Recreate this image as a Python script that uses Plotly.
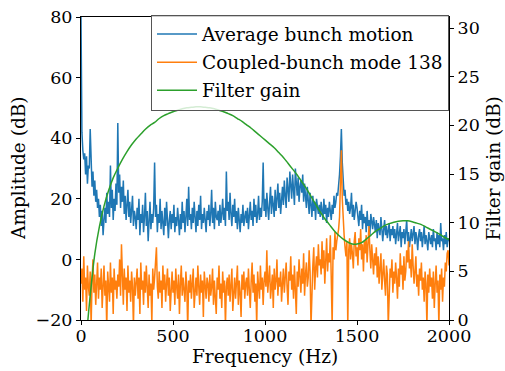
import plotly.graph_objects as go

# Average bunch motion (dB), 5 Hz spacing from 0 Hz
blue_db = [
    80, 42, 36, 33, 35, 28, 34, 25, 31, 30, 43, 27, 24, 29, 21, 26, 19, 23, 17, 20,
    14, 18, 11, 16, 8, 13, 17, 12, 22, 15, 19, 14, 31, 17, 23, 13, 20, 16, 25, 18,
    45, 22, 28, 17, 24, 19, 26, 15, 21, 13, 18, 23, 14, 19, 12, 17, 21, 11, 16, 14,
    10, 17, 13, 20, 8, 15, 12, 18, 9, 14, 22, 11, 16, 6, 13, 19, 10, 15, 12, 17,
    32, 14, 18, 9, 15, 12, 20, 10, 16, 13, 8, 17, 11, 19, 14, 7, 13, 16, 10, 15,
    12, 18, 9, 14, 11, 17, 13, 8, 15, 10, 19, 12, 16, 9, 14, 20, 11, 24, 13, 15,
    10, 17, 12, 19, 14, 9, 16, 11, 18, 13, 21, 10, 15, 12, 17, 14, 9, 16, 13, 18,
    11, 15, 23, 12, 17, 10, 19, 14, 13, 16, 11, 18, 12, 15, 20, 13, 17, 11, 29, 16,
    19, 13, 22, 15, 11, 18, 14, 20, 12, 16, 10, 17, 13, 9, 15, 12, 18, 11, 14, 16,
    12, 17, 10, 15, 19, 13, 16, 11, 20, 14, 18, 12, 15, 21, 13, 17, 14, 19, 32, 16,
    20, 14, 22, 17, 13, 19, 24, 15, 21, 18, 14, 23, 16, 20, 25, 17, 22, 15, 19, 24,
    18, 26, 21, 17, 27, 22, 19, 29, 24, 20, 28, 23, 18, 30, 25, 21, 27, 19, 24, 26,
    22, 28, 19, 25, 21, 17, 24, 20, 15, 22, 18, 14, 21, 16, 19, 13, 20, 17, 15, 18,
    14, 19, 16, 13, 20, 15, 18, 12, 17, 14, 19, 16, 13, 18, 15, 21, 17, 19, 22, 21,
    24, 28, 34, 43, 32, 25, 21, 23, 18, 20, 16, 19, 15, 17, 22, 14, 18, 13, 16, 19,
    17, 14, 11, 16, 13, 18, 10, 15, 12, 14, 9, 16, 11, 13, 8, 15, 12, 10, 14, 11,
    9, 13, 7, 12, 10, 8, 14, 11, 6, 10, 13, 8, 11, 7, 9, 12, 6, 10, 8, 11,
    7, 10, 5, 9, 12, 6, 8, 11, 4, 9, 7, 10, 5, 8, 13, 6, 9, 4, 7, 10,
    6, 8, 11, 5, 9, 7, 3, 8, 10, 6, 9, 4, 7, 11, 5, 8, 6, 3, 9, 7,
    5, 8, 4, 10, 6, 7, 3, 9, 5, 8, 4, 12, 6, 7, 3, 8, 5, 9, 4, 7,
    6,
]

# Coupled-bunch mode 138 (dB), 5 Hz spacing from 0 Hz
orange_db = [
    -8, -3, -14, 1, -10, -6, -17, -2, -9, -12, -4, -22, -7, 0, -11, -5, -15, -8, -1, -13,
    -6, -10, -3, -16, -8, -2, -12, -7, -23, -4, -9, -14, -1, -11, -6, -18, -3, -10, -7, -13,
    -5, -9, 0, -12, 5, -8, -15, -3, -10, -6, -17, -2, -11, -7, -14, -4, -9, -22, -6, -12,
    -8, -3, -13, -6, -18, -1, -10, -7, -15, -4, -11, -2, -9, -16, -5, -12, -8, -21, -3, -10,
    -6, -1, 4, -9, -13, -4, -11, -7, -16, -2, -10, -5, -14, -8, -3, -12, -6, -17, -9, -4,
    -11, -7, -15, -3, -9, -13, -5, -18, -8, -2, -12, -6, -10, -14, -4, -9, -23, -7, -11, -5,
    -13, -8, -3, -16, -10, -6, -12, -2, -9, -15, -5, -11, -7, -19, -4, -10, -13, -6, -8, -14,
    -5, -12, -9, -3, -15, -7, -11, -18, -6, -10, -2, -13, -8, -16, -4, -11, -7, -22, -9, -6,
    -12, -5, -14, -8, -3, -17, -10, -6, -13, -9, -2, -15, -7, -11, -19, -5, -10, -4, -13, -8,
    -6, -12, -3, -10, -16, -7, -1, -11, -5, -14, -8, -22, -4, -9, -13, -2, -10, -6, -15, -7,
    -4, -9, 3, -11, -6, -2, -13, -8, -5, -16, -3, -10, -7, 0, -12, -6, -9, -4, -14, -8,
    -3, -11, -6, -1, -9, -15, -4, -7, 1, -10, -5, -13, -2, -8, -18, -4, -9, 0, -6, -11,
    -3, -8, 2, -12, -5, -1, -9, -6, 3, -4, -22, -7, -2, 4, -10, -3, 1, -6, 5, -2,
    0, -5, 6, -3, 3, -8, 1, 7, -4, 2, -1, 8, -6, -22, 4, 0, 9, 3, 6, 8,
    10, 14, 22, 36, 20, 12, 8, 4, 1, 6, -22, 3, 7, 0, 5, 2, -3, 6, 9, 1,
    4, -2, 7, 3, 10, 0, 5, -4, 6, 2, 8, -1, 4, 11, 3, -3, 5, 1, -5, 2,
    -2, 4, -6, 1, -8, -3, 2, -10, -4, 0, -7, -12, -2, -5, -22, -9, -3, -6, 0, -11,
    -4, -8, -1, -6, -13, -3, -9, 2, -5, -2, -10, 1, -7, -4, 3, -1, 6, -3, 0, -6,
    5, -2, -8, -4, 1, -9, -5, -12, -3, -7, -1, -10, -6, -14, -4, -8, -22, -5, -11, -3,
    -9, -6, -13, -4, -16, -8, -2, -11, -7, -22, -5, -10, -3, -14, -6, -9, -1, -4, 2, 3,
    -2,
]

# Filter gain (dB), 25 Hz spacing from 0 Hz
gain_db = [
    -15, -3, 2.5, 6.8, 9.6, 11.7, 13.3, 14.6, 15.6, 16.5, 17.3, 18.0, 18.6, 19.1, 19.6, 20.0,
    20.3, 20.7, 21.0, 21.2, 21.4, 21.55, 21.7, 21.8, 21.85, 21.9, 21.9, 21.85, 21.8, 21.7,
    21.55, 21.4, 21.2, 21.0, 20.7, 20.4, 20.05, 19.7, 19.3, 18.9, 18.5, 18.1, 17.7, 17.2,
    16.7, 16.1, 15.5, 14.9, 14.2, 13.5, 12.7, 11.9, 11.1, 10.4, 9.8, 9.2, 8.7, 8.3, 8.0,
    7.8, 7.8, 7.95, 8.3, 8.7, 9.1, 9.4, 9.7, 9.9, 10.05, 10.15, 10.2, 10.2, 10.1, 9.95,
    9.8, 9.55, 9.3, 9.05, 8.8, 8.5, 8.25,
]

x_ticks = [0, 500, 1000, 1500, 2000]
y_ticks = [-20, 0, 20, 40, 60, 80]
y_tick_text = ["\u221220", "0", "20", "40", "60", "80"]
y2_ticks = [0, 5, 10, 15, 20, 25, 30]

blue_f = [5 * i for i in range(len(blue_db))]
orange_f = [5 * i for i in range(len(orange_db))]
gain_f = [25 * i for i in range(len(gain_db))]

FONT = "DejaVu Serif"
TICK_SIZE = 17.5
LABEL_SIZE = 18.5

fig = go.Figure()
fig.add_trace(go.Scatter(x=blue_f, y=blue_db, mode="lines", name="Average bunch motion",
                         line=dict(color="#1f77b4", width=1.5), legendgroup="a"))
fig.add_trace(go.Scatter(x=orange_f, y=orange_db, mode="lines", name="Coupled-bunch mode 138",
                         line=dict(color="#ff7f0e", width=1.5), legendgroup="b"))
fig.add_trace(go.Scatter(x=gain_f, y=gain_db, mode="lines", name="Filter gain",
                         line=dict(color="#2ca02c", width=1.5, shape="spline"),
                         yaxis="y2", legendgroup="c"))

axis_common = dict(showgrid=False, zeroline=False, showline=True, linecolor="black",
                   linewidth=1, ticks="outside", ticklen=4, tickcolor="black",
                   automargin=False, tickfont=dict(family=FONT, size=TICK_SIZE, color="black"))

fig.update_layout(
    width=505, height=371,
    margin=dict(l=81, r=56, t=17, b=51, autoexpand=False),
    paper_bgcolor="white", plot_bgcolor="white",
    font=dict(family=FONT, size=LABEL_SIZE, color="black"),
    showlegend=True,
    legend=dict(x=1, xanchor="right", y=1.008, yanchor="top",
                bgcolor="rgba(255,255,255,0.8)", bordercolor="#555555", borderwidth=1,
                font=dict(family=FONT, size=LABEL_SIZE), tracegroupgap=1,
                itemwidth=40),
    xaxis=dict(range=[0, 2000], tickvals=x_ticks, mirror=True, ticklabelstandoff=-4,
               **axis_common),
    yaxis=dict(range=[-20, 80], tickvals=y_ticks, ticktext=y_tick_text, **axis_common),
    yaxis2=dict(range=[0, 31.13], tickvals=y2_ticks, overlaying="y", side="right",
                **axis_common),
    annotations=[
        dict(text="Frequency (Hz)", xref="paper", yref="paper", x=0.5, y=-0.122,
             xanchor="center", yanchor="middle", showarrow=False,
             font=dict(family=FONT, size=LABEL_SIZE)),
        dict(text="Amplitude (dB)", xref="paper", yref="paper", x=-0.170, y=0.5,
             xanchor="center", yanchor="middle", showarrow=False, textangle=-90,
             font=dict(family=FONT, size=LABEL_SIZE)),
        dict(text="Filter gain (dB)", xref="paper", yref="paper", x=1.122, y=0.5,
             xanchor="center", yanchor="middle", showarrow=False, textangle=-90,
             font=dict(family=FONT, size=LABEL_SIZE)),
    ],
)

fig.write_html("out.html", config={"displayModeBar": False},
               post_script="document.body.style.margin='0px';")
